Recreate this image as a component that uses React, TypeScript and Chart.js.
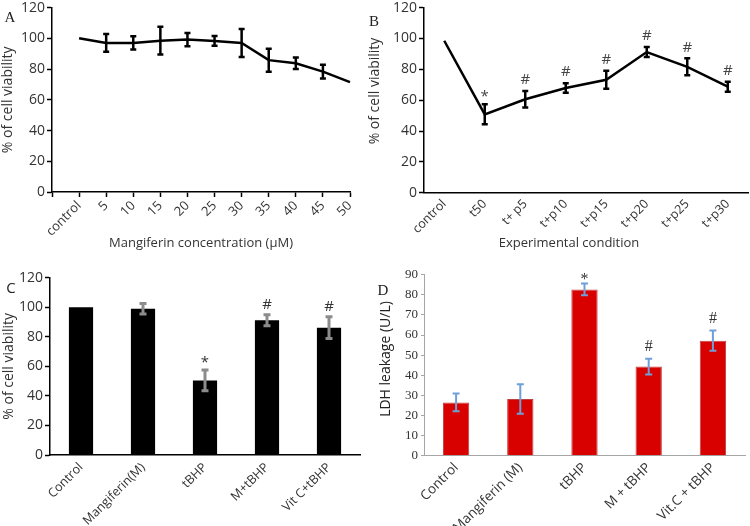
import React, { useEffect, useRef } from 'react';
import { Chart, registerables } from 'chart.js';
Chart.register(...registerables);

// ---------- DATA ----------
const A_LABELS = ['', 'control', '5', '10', '15', '20', '25', '30', '35', '40', '45', '50'];
const A_VALUES = [null, 100, 97, 97, 98.5, 99.2, 98.3, 97, 85.8, 83.8, 78.3, 71.5];
const A_ERRORS = [null, null, 5.8, 4.3, 9, 4.3, 3.2, 9.1, 7.5, 3.7, 4.5, null];
const A_MARKS = ['', '', '', '', '', '', '', '', '', '', '', ''];

const B_LABELS = ['control', 't50', 't+ p5', 't+p10', 't+p15', 't+p20', 't+p25', 't+p30'];
const B_VALUES = [98.5, 50.8, 60.6, 67.9, 73.2, 91.2, 81.6, 68.7];
const B_ERRORS = [null, 6.5, 5.3, 3.1, 5.8, 3.3, 5.5, 3.3];
const B_MARKS = ['', '*', '#', '#', '#', '#', '#', '#'];

const C_LABELS = ['Control', 'Mangiferin(M)', 'tBHP', 'M+tBHP', 'Vit C+tBHP'];
const C_VALUES = [100, 99, 50.5, 91.2, 86.2];
const C_ERRORS = [null, 3.5, 7, 3.7, 7.3];
const C_MARKS = ['', '', '*', '#', '#'];

const D_LABELS = ['Control', 'Mangiferin (M)', 'tBHP', 'M + tBHP', 'Vit.C + tBHP'];
const D_VALUES = [26.5, 28.2, 82.7, 44.3, 57.2];
const D_ERRORS = [4.4, 7.3, 2.9, 3.9, 5];
const D_MARKS = ['', '', '*', '#', '#'];

const SANS = "'Open Sans', 'Liberation Sans', sans-serif";
const SERIF = "'Liberation Serif', 'DejaVu Serif', serif";

// ---------- PLUGINS ----------
function makeErrorPlugin(style: any) {
  return {
    id: 'errorBars',
    afterDatasetsDraw(chart: any) {
      const ctx = chart.ctx;
      const ds = chart.data.datasets[0];
      const values = ds.data;
      const errors = ds.errors || [];
      const marks = ds.marks || [];
      const ys = chart.scales.y;
      const meta = chart.getDatasetMeta(0);
      ctx.save();
      meta.data.forEach((el: any, i: number) => {
        const v = values[i];
        if (v == null) return;
        const x = el.x;
        let topY = ys.getPixelForValue(v);
        const e = errors[i];
        if (e != null) {
          const y1 = ys.getPixelForValue(v + e);
          const y2 = ys.getPixelForValue(v - e);
          ctx.strokeStyle = style.color;
          ctx.lineWidth = style.lineWidth;
          ctx.lineCap = 'butt';
          ctx.beginPath();
          ctx.moveTo(x, y1);
          ctx.lineTo(x, y2);
          ctx.moveTo(x - style.cap, y1);
          ctx.lineTo(x + style.cap, y1);
          ctx.moveTo(x - style.cap, y2);
          ctx.lineTo(x + style.cap, y2);
          ctx.stroke();
          topY = y1;
        }
        const m = marks[i];
        if (m) {
          ctx.fillStyle = style.markColor;
          ctx.font = style.markFont;
          ctx.textAlign = 'center';
          ctx.textBaseline = 'middle';
          const d = style.markOffset[m] ?? 10;
          ctx.fillText(m, x, topY - d);
        }
      });
      ctx.restore();
    },
  };
}

function makeTextPlugin(items: any[]) {
  return {
    id: 'extraTexts',
    afterDraw(chart: any) {
      const ctx = chart.ctx;
      items.forEach((it) => {
        ctx.save();
        ctx.translate(it.x, it.y);
        if (it.rot) ctx.rotate(it.rot);
        ctx.font = it.font;
        ctx.fillStyle = it.color;
        ctx.textAlign = 'center';
        ctx.textBaseline = 'middle';
        ctx.fillText(it.text, 0, 0);
        ctx.restore();
      });
    },
  };
}

function axisY(opts: any) {
  return {
    min: opts.min,
    max: opts.max,
    afterFit: (s: any) => { s.width = opts.width; },
    ticks: {
      stepSize: opts.step,
      font: { family: opts.family || SANS, size: opts.fontSize || 14, lineHeight: 0.8 },
      color: opts.tickColor || '#333',
      padding: opts.padding ?? 2,
    },
    grid: {
      display: true,
      drawOnChartArea: false,
      drawTicks: true,
      tickLength: opts.tickLength ?? 5,
      tickColor: opts.lineColor || '#000',
      tickWidth: opts.lineWidth || 1.5,
    },
    border: { display: true, color: opts.lineColor || '#000', width: opts.lineWidth || 1.5 },
    title: opts.title
      ? { display: true, text: opts.title, font: { family: SANS, size: 14 }, color: '#333', padding: { top: opts.titlePad ?? 0, bottom: 0 } }
      : { display: false },
  };
}

function axisX(opts: any) {
  return {
    type: 'category',
    offset: opts.offset,
    afterFit: (s: any) => { s.height = opts.height; },
    ticks: {
      autoSkip: false,
      minRotation: 45,
      maxRotation: 45,
      font: { family: SANS, size: opts.fontSize || 12 },
      color: '#333',
      padding: opts.padding ?? 2,
    },
    grid: opts.tickMarks
      ? { display: true, drawOnChartArea: false, drawTicks: true, tickLength: 5, tickColor: '#000', tickWidth: 1.5 }
      : { display: false, drawTicks: false, tickLength: 0 },
    border: { display: true, color: opts.lineColor || '#000', width: opts.lineWidth || 1.5 },
    title: opts.title
      ? { display: true, text: opts.title, font: { family: SANS, size: 13 }, color: '#333', padding: { top: 0, bottom: opts.titlePad ?? 12 } }
      : { display: false },
  };
}

const baseOptions = (padding: any, scales: any) => ({
  responsive: false,
  animation: false,
  events: [],
  layout: { padding },
  plugins: { legend: { display: false }, tooltip: { enabled: false } },
  scales,
});

// ---------- CONFIGS ----------
const configA = {
  type: 'line',
  data: {
    labels: A_LABELS,
    datasets: [{ data: A_VALUES, errors: A_ERRORS, marks: A_MARKS, borderColor: '#000', borderWidth: 2.5, pointRadius: 0, tension: 0 }],
  },
  options: baseOptions({ left: 0, right: 25, top: 7, bottom: 0 }, {
    x: axisX({ offset: false, height: 71, tickMarks: true, fontSize: 13, padding: 1, title: 'Mangiferin concentration (µM)', titlePad: 12 }),
    y: axisY({ min: 0, max: 120, step: 20, width: 52, title: '% of cell viability', titlePad: 0 }),
  }),
  plugins: [makeErrorPlugin({ color: '#000', lineWidth: 2.5, cap: 3, markColor: '#333', markFont: `14px ${SANS}`, markOffset: {} })],
};

const configB = {
  type: 'line',
  data: {
    labels: B_LABELS,
    datasets: [{ data: B_VALUES, errors: B_ERRORS, marks: B_MARKS, borderColor: '#000', borderWidth: 2.5, pointRadius: 0, tension: 0 }],
  },
  options: baseOptions({ left: 0, right: 2, top: 6, bottom: 0 }, {
    x: axisX({ offset: true, height: 70.3, tickMarks: false, fontSize: 12.5, padding: 4 }),
    y: axisY({ min: 0, max: 120, step: 20, width: 64 }),
  }),
  plugins: [
    makeErrorPlugin({ color: '#000', lineWidth: 2.5, cap: 3, markColor: '#444', markFont: `15px ${SANS}`, markOffset: { '#': 11, '*': 8 } }),
    makeTextPlugin([
      { text: 'Experimental condition', x: 209, y: 243, font: `13px ${SANS}`, color: '#333' },
      { text: '% of cell viability', x: 15.5, y: 91, rot: -Math.PI / 2, font: `14px ${SANS}`, color: '#333' },
    ]),
  ],
};

const configC = {
  type: 'bar',
  data: {
    labels: C_LABELS,
    datasets: [{ data: C_VALUES, errors: C_ERRORS, marks: C_MARKS, backgroundColor: '#000', borderWidth: 0, barPercentage: 0.39, categoryPercentage: 1 }],
  },
  options: baseOptions({ left: 0, right: 15, top: 14.7, bottom: 0 }, {
    x: axisX({ offset: true, height: 71, tickMarks: false, fontSize: 12.5, padding: 5 }),
    y: axisY({ min: 0, max: 120, step: 20, width: 50, title: '% of cell viability', titlePad: 1 }),
  }),
  plugins: [makeErrorPlugin({ color: '#8c8c8c', lineWidth: 3, cap: 3.5, markColor: '#333', markFont: `15px ${SANS}`, markOffset: { '#': 10, '*': 7 } })],
};

const configD = {
  type: 'bar',
  data: {
    labels: D_LABELS,
    datasets: [{ data: D_VALUES, errors: D_ERRORS, marks: D_MARKS, backgroundColor: '#d90000', borderColor: '#c04040', borderWidth: 1, barPercentage: 0.41, categoryPercentage: 1 }],
  },
  options: baseOptions({ left: 0, right: 5, top: 11.7, bottom: 0 }, {
    x: axisX({ offset: true, height: 70.3, tickMarks: false, fontSize: 13.5, padding: 4, lineColor: '#a6a6a6', lineWidth: 1 }),
    y: axisY({ min: 0, max: 90, step: 10, width: 49, family: SERIF, fontSize: 13, tickLength: 3, padding: 3, lineColor: '#a6a6a6', lineWidth: 1 }),
  }),
  plugins: [
    makeErrorPlugin({ color: '#6f9fd8', lineWidth: 2, cap: 3.5, markColor: '#333', markFont: `16px ${SERIF}`, markOffset: { '#': 11.5, '*': 4 } }),
    makeTextPlugin([
      { text: 'LDH leakage (U/L)', x: 11, y: 96, rot: -Math.PI / 2, font: `14px ${SANS}`, color: '#222' },
    ]),
  ],
};

// ---------- COMPONENTS ----------
function Panel({ config, left, top, width, height }: any) {
  const ref = useRef<HTMLCanvasElement>(null);
  useEffect(() => {
    const chart = new Chart(ref.current as HTMLCanvasElement, config);
    return () => chart.destroy();
  }, []);
  return (
    <div style={{ position: 'absolute', left, top, width, height }}>
      <canvas ref={ref} width={width} height={height} style={{ display: 'block' }} />
    </div>
  );
}

function Letter({ text, x, y, family }: any) {
  return (
    <span
      style={{
        position: 'absolute', left: x, top: y, transform: 'translate(-50%, -50%)',
        fontFamily: family, fontSize: 15, lineHeight: '15px', color: '#222',
      }}
    >
      {text}
    </span>
  );
}

export default function App() {
  return (
    <div style={{ position: 'absolute', left: 0, top: 0, width: 750, height: 526, background: '#fff', overflow: 'hidden' }}>
      <Panel config={configA} left={0} top={0} width={375} height={263} />
      <Panel config={configB} left={360} top={0} width={390} height={263} />
      <Panel config={configC} left={0} top={263} width={375} height={263} />
      <Panel config={configD} left={375} top={263} width={375} height={263} />
      <Letter text="A" x={10} y={17} family={SERIF} />
      <Letter text="B" x={374} y={21} family={SERIF} />
      <Letter text="C" x={11} y={287} family={SANS} />
      <Letter text="D" x={383} y={290} family={SERIF} />
    </div>
  );
}
